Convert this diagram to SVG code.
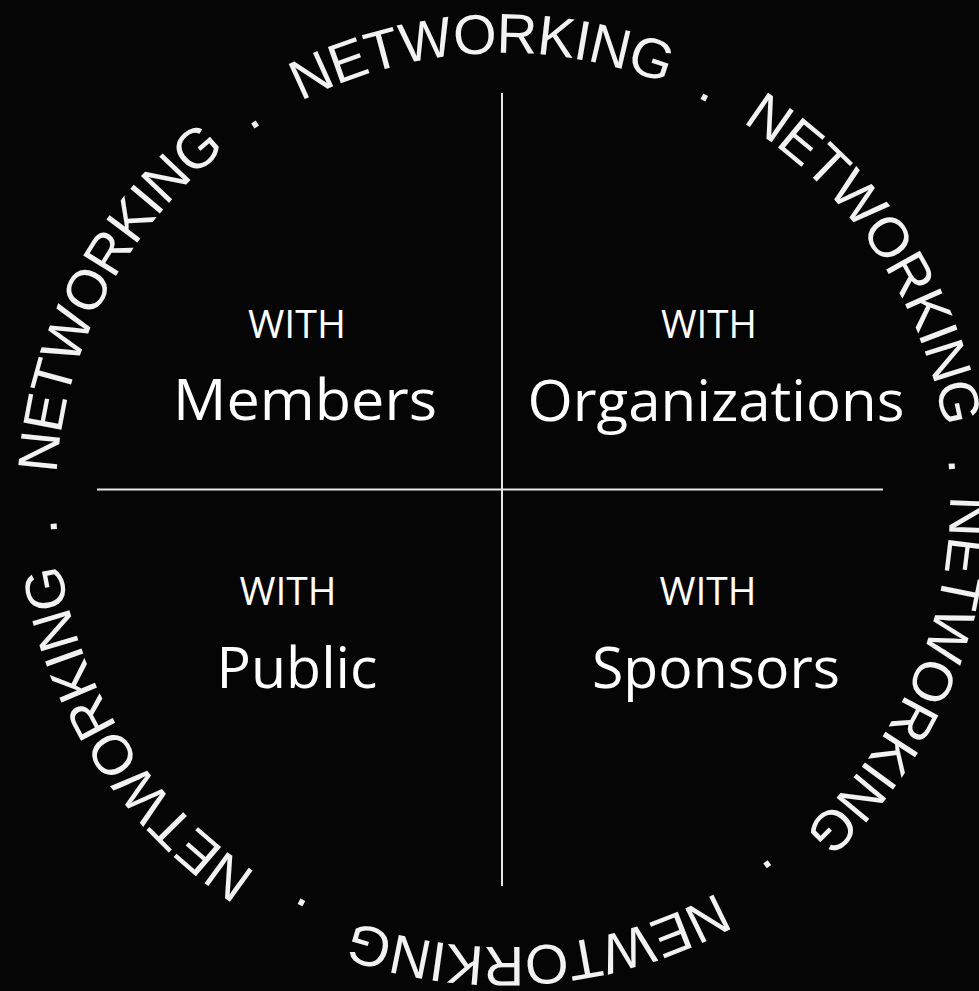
<svg xmlns="http://www.w3.org/2000/svg" xmlns:xlink="http://www.w3.org/1999/xlink" width="979" height="991" viewBox="0 0 979 991">
  <defs>
    <path id="ring" d="M 56,500 A 447 447 0 1 1 950,500 A 447 447 0 1 1 56,500"/>
    <style>
      .ringtxt { font-family: "Liberation Sans", Arial, sans-serif; font-size: 56px; fill: #f2f2f2; letter-spacing: -1px; }
      .with { font-family: "Open Sans", "Liberation Sans", sans-serif; font-size: 39px; fill: #ffffff; text-anchor: middle; }
      .label { font-family: "Open Sans", "Liberation Sans", sans-serif; font-size: 56px; fill: #ffffff; text-anchor: middle; }
      .divider { stroke: #e6e6e6; stroke-width: 2; }
    </style>
  </defs>
  <rect width="979" height="991" fill="#050505"/>

  <g id="ring-text" class="ringtxt">
    <text><textPath xlink:href="#ring" href="#ring" startOffset="214.5" text-anchor="middle">NETWORKING</textPath></text>
    <text><textPath xlink:href="#ring" href="#ring" startOffset="440.8" text-anchor="middle">.</textPath></text>
    <text><textPath xlink:href="#ring" href="#ring" startOffset="680" text-anchor="middle">NETWORKING</textPath></text>
    <text><textPath xlink:href="#ring" href="#ring" startOffset="908.9" text-anchor="middle">.</textPath></text>
    <text><textPath xlink:href="#ring" href="#ring" startOffset="1142" text-anchor="middle">NETWORKING</textPath></text>
    <text><textPath xlink:href="#ring" href="#ring" startOffset="1370" text-anchor="middle">.</textPath></text>
    <text><textPath xlink:href="#ring" href="#ring" startOffset="1588" text-anchor="middle">NETWORKING</textPath></text>
    <text><textPath xlink:href="#ring" href="#ring" startOffset="1825" text-anchor="middle">.</textPath></text>
    <text><textPath xlink:href="#ring" href="#ring" startOffset="2070" text-anchor="middle">NEWTORKING</textPath></text>
    <text><textPath xlink:href="#ring" href="#ring" startOffset="2313.2" text-anchor="middle">.</textPath></text>
    <text><textPath xlink:href="#ring" href="#ring" startOffset="2555.0" text-anchor="middle">NETWORKING</textPath></text>
    <text><textPath xlink:href="#ring" href="#ring" startOffset="2781.3" text-anchor="middle">.</textPath></text>
  </g>

  <g id="connectors">
    <line class="divider" x1="502" y1="93" x2="502" y2="886"/>
    <line class="divider" x1="97" y1="489.5" x2="883" y2="489.5"/>
  </g>

  <g id="members">
    <text class="with" x="297" y="338" textLength="98" lengthAdjust="spacingAndGlyphs">WITH</text>
    <text class="label" x="305" y="420" textLength="264" lengthAdjust="spacingAndGlyphs">Members</text>
  </g>
  <g id="organizations">
    <text class="with" x="709" y="338" textLength="96" lengthAdjust="spacingAndGlyphs">WITH</text>
    <text class="label" x="716" y="421" textLength="377" lengthAdjust="spacingAndGlyphs">Organizations</text>
  </g>
  <g id="public">
    <text class="with" x="288" y="605" textLength="97" lengthAdjust="spacingAndGlyphs">WITH</text>
    <text class="label" x="297" y="688" textLength="161" lengthAdjust="spacingAndGlyphs">Public</text>
  </g>
  <g id="sponsors">
    <text class="with" x="708" y="605" textLength="97" lengthAdjust="spacingAndGlyphs">WITH</text>
    <text class="label" x="716" y="688" textLength="248" lengthAdjust="spacingAndGlyphs">Sponsors</text>
  </g>
</svg>
